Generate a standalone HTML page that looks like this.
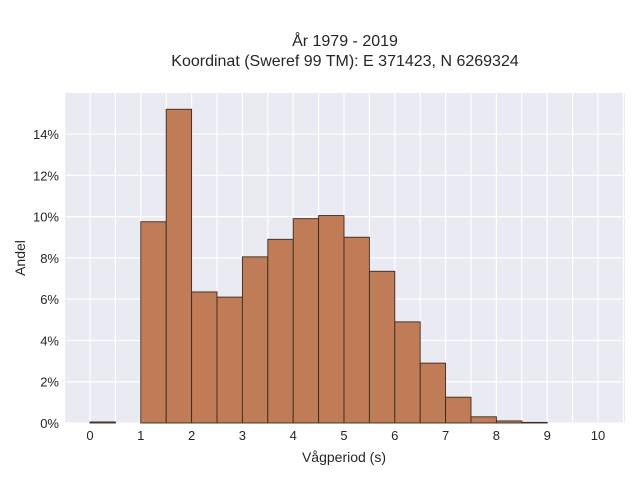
<!DOCTYPE html>
<html><head><meta charset="utf-8"><style>
body{margin:0;background:#fff;font-family:"Liberation Sans","DejaVu Sans",sans-serif;}
svg text{font-family:"Liberation Sans","DejaVu Sans",sans-serif;fill:#262626;}
</style></head><body>
<svg width="640" height="480" id="svg">
<text x="345" y="46" font-size="16" text-anchor="middle">År 1979 - 2019</text>
<text x="345" y="66" font-size="16" text-anchor="middle">Koordinat (Sweref 99 TM): E 371423, N 6269324</text>
<rect x="64" y="93" width="561" height="330" fill="#eaeaf2"/>
<g id="grid"></g><g id="bars"></g><g id="ticks"></g>
<text x="344" y="462" font-size="14" text-anchor="middle">Vågperiod (s)</text>
<text x="25" y="258" font-size="14" text-anchor="middle" transform="rotate(-90 25 258)">Andel</text>
</svg>
<script>
const binStarts=[0,0.5,1,1.5,2,2.5,3,3.5,4,4.5,5,5.5,6,6.5,7,7.5,8,8.5,9,9.5];
const binValues=[0.05,0,9.75,15.2,6.35,6.1,8.05,8.9,9.9,10.05,9.0,7.35,4.9,2.9,1.25,0.3,0.1,0.03,0,0];
const xTicks=[0,1,2,3,4,5,6,7,8,9,10];
const yTicks=[0,2,4,6,8,10,12,14];
const binWidth=0.5;
const NS="http://www.w3.org/2000/svg";
const X=v=>90+v*50.8, Y=v=>423-v*20.64;
const grid=document.getElementById('grid'),bars=document.getElementById('bars'),ticks=document.getElementById('ticks');
function mk(t,a,p){const e=document.createElementNS(NS,t);for(const k in a)e.setAttribute(k,a[k]);p.appendChild(e);return e;}
for(let v=-0.5;v<=10.5;v+=0.5){const l=mk('line',{x1:X(v),x2:X(v),y1:93,y2:423,stroke:'#fff','stroke-width':1.2},grid);

}
yTicks.forEach(v=>{const l=mk('line',{x1:64,x2:625,y1:Y(v),y2:Y(v),stroke:'#fff','stroke-width':1.2},grid);


const t=mk('text',{x:59,y:Y(v)+5,'font-size':13,'text-anchor':'end'},ticks);t.textContent=v+'%';

});
xTicks.forEach(v=>{const t=mk('text',{x:X(v),y:440,'font-size':13,'text-anchor':'middle'},ticks);t.textContent=v;

});
binStarts.forEach((s,i)=>{const v=binValues[i];if(v<=0)return;
const r=mk('rect',{x:X(s),y:Y(v),width:X(s+binWidth)-X(s),height:Y(0)-Y(v),fill:'#c07c56',stroke:'#3a2a22','stroke-width':0.9},bars);

});
</script>
</body></html>
